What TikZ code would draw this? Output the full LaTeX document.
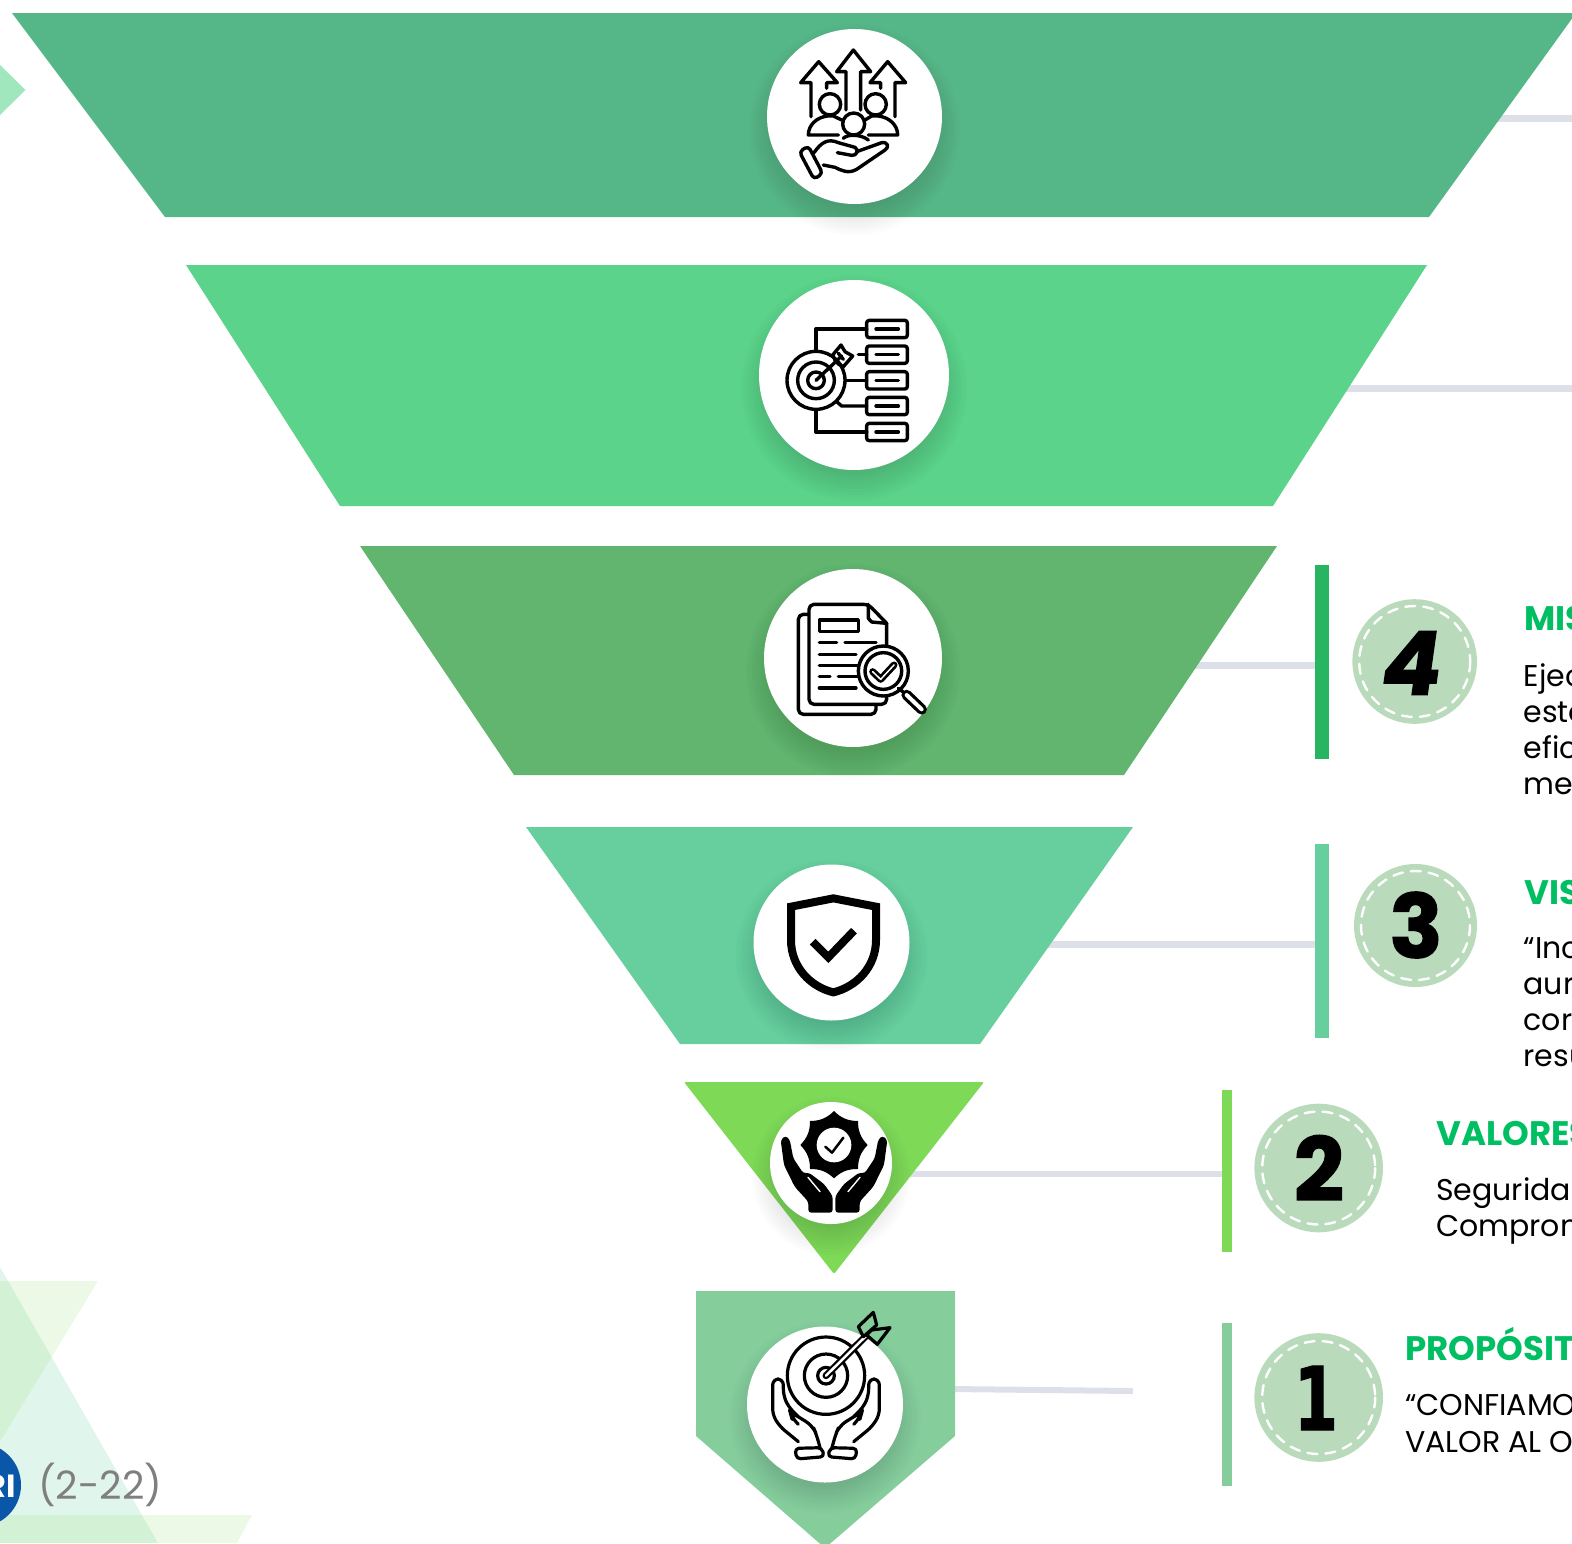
\documentclass[tikz,border=0pt]{standalone}
\usepackage{fontspec}
\setmainfont{Poppins}
\newfontfamily\numfont[BoldFeatures={FakeBold=1.6}]{Poppins}
\newfontfamily\slantfont[BoldFeatures={FakeBold=1.6,FakeSlant=0.14}]{Poppins}
\newfontfamily\onefont[BoldFeatures={FakeStretch=0.72,FakeBold=1}]{DejaVu Sans}
\usetikzlibrary{positioning,calc}

\definecolor{bandA}{HTML}{55B787}
\definecolor{bandB}{HTML}{5BD38A}
\definecolor{bandC}{HTML}{61B56F}
\definecolor{bandD}{HTML}{66CF9D}
\definecolor{bandE}{HTML}{7ED957}
\definecolor{bandF}{HTML}{85CE9C}
\definecolor{barfour}{HTML}{27B562}
\definecolor{linkgray}{HTML}{DDE0E8}
\definecolor{numgreen}{HTML}{BADBBB}
\definecolor{headgreen}{HTML}{00BF63}
\definecolor{logoblue}{HTML}{0A56A8}
\definecolor{diamondgreen}{HTML}{A0E7BE}
\definecolor{markgray}{HTML}{7F7F7F}

% soft shadow under a white circle
\newcommand{\circshadow}[3]{%
  \foreach \k in {0,...,9} {
    \fill[black,opacity=0.011] (#1,#2+13) circle ({#3+18-\k*3});
  }
}

\begin{document}
\begin{tikzpicture}[x=1pt,y=-1pt,
  iconcirc/.style={circle,fill=white,inner sep=0pt},
  numcirc/.style={circle,fill=numgreen,inner sep=0pt,minimum size=#1},
  stitch/.style={white,line width=2.4pt,dash pattern=on 10pt off 8pt,line cap=round},
  linkline/.style={linkgray,line width=7pt},
  sidebar/.style={rectangle,inner sep=0pt,minimum width=#1},
  icon/.style={black,line width=3.4pt,line cap=round,line join=round},
  head/.style={anchor=base west,inner sep=0pt,text=headgreen,font=\fontsize{34}{36}\selectfont\bfseries},
  body/.style={anchor=base west,inner sep=0pt,text=black,font=\fontsize{30}{36}\selectfont},
  digit/.style={inner sep=0pt,text=black,font=\fontsize{88}{88}\selectfont}]

\useasboundingbox (0,0) rectangle (1572,1543);
\clip (0,0) rectangle (1572,1543);

% Background triangles
\fill[bandD,opacity=0.2] (-20,1232) -- (158,1543) -- (-200,1543) -- cycle;
\fill[bandE,opacity=0.15] (-100,1281) -- (98,1281) -- (-60,1540) -- cycle;
\fill[bandE,opacity=0.15] (-200,1515) -- (252,1515) -- (237,1543) -- (-200,1543) -- cycle;
\fill[diamondgreen] (-5,60) -- (25.5,90) -- (-5,120) -- cycle;

% Page mark
\node[circle,fill=logoblue,inner sep=0pt,minimum size=84pt] (logo) at (-21,1485) {};
\node[anchor=base east,inner sep=0pt,text=white,font=\fontsize{32}{32}\selectfont\bfseries] (logotext) at (16,1497) {RI};
\node[anchor=base west,inner sep=0pt,text=markgray,font=\fontsize{39}{39}\selectfont] (pagemark) at (38,1499) {(2-22)};

% Side bars
\node[sidebar=14pt,minimum height=194pt,fill=barfour] (bar4) at (1322,662) {};
\node[sidebar=14pt,minimum height=194pt,fill=bandD] (bar3) at (1322,941) {};
\node[sidebar=10pt,minimum height=162pt,fill=bandE] (bar2) at (1227,1171) {};
\node[sidebar=10pt,minimum height=163pt,fill=bandF] (bar1) at (1227,1404.5) {};

% Connectors, their left ends sit under the bands
\coordinate (from6) at (1450,118);
\coordinate (to6) at (1580,118);
\coordinate (from5) at (1300,388);
\coordinate (to5) at (1580,388);
\coordinate (from4) at (1150,665.5);
\coordinate (from3) at (1000,944);
\coordinate (from2) at (880,1174);
\coordinate (from1) at (950,1389);
\coordinate (to1) at (1133,1391);
\draw[linkline] (from6) -- (to6);
\draw[linkline] (from5) -- (to5);
\draw[linkline] (from4) -- (from4 -| bar4.west);
\draw[linkline] (from3) -- (from3 -| bar3.west);
\draw[linkline,line width=6pt] (from2) -- (from2 -| bar2.west);
\draw[linkline,line width=6pt] (from1) -- (to1);

% Funnel bands
\fill[bandA] (12,13) -- (1576,13) -- (1429,217) -- (165,217) -- cycle;
\fill[bandB] (186,265) -- (1427,265) -- (1273,506) -- (340,506) -- cycle;
\fill[bandC] (360,546) -- (1277,546) -- (1124,775) -- (514,775) -- cycle;
\fill[bandD] (526,827) -- (1133,827) -- (980,1044) -- (680,1044) -- cycle;
\fill[bandE,rounded corners=2pt] (684,1082) -- (984,1082) -- (834,1274) -- cycle;
\fill[bandF] (696,1291) -- (955,1291) -- (955,1436) -- (825,1548) -- (696,1436) -- cycle;

% Icon circles
\circshadow{854.5}{116.5}{87.5}
\circshadow{854}{375}{95}
\circshadow{853}{658}{89}
\circshadow{831.5}{942.5}{78}
\circshadow{831}{1163}{61}
\circshadow{825}{1404.5}{78}
\node[iconcirc,minimum size=175pt] (circ6) at (854.5,116.5) {};
\node[iconcirc,minimum size=190pt] (circ5) at (854,375) {};
\node[iconcirc,minimum size=178pt] (circ4) at (853,658) {};
\node[iconcirc,minimum size=156pt] (circ3) at (831.5,942.5) {};
\node[iconcirc,minimum size=122pt] (circ2) at (831,1163) {};
\node[iconcirc,minimum size=156pt] (circ1) at (825,1404.5) {};

% Icon: people over a hand
\begin{scope}[shift={(740,10)},scale=1/3,icon]
  \draw (318,300) -- (318,185) -- (290,185) -- (340,120) -- (392,185) -- (362,185) -- (362,300);
  \draw (213,320) -- (213,218) -- (182,218) -- (236,155) -- (292,218) -- (260,218) -- (260,235);
  \draw (465,320) -- (465,218) -- (497,218) -- (443,155) -- (390,218) -- (422,218) -- (422,235);
  \draw (270,283) circle (32);
  \draw (407,283) circle (32);
  \draw (295,375) -- (205,375) .. controls (205,345) and (230,322) .. (262,318) -- (280,318) -- (305,330);
  \draw (385,375) -- (473,375) .. controls (473,345) and (448,322) .. (415,318) -- (395,318) -- (375,330);
  \draw (341,342) circle (33);
  \draw (310,385) .. controls (322,372) and (362,372) .. (385,390);
  \draw[rounded corners=4pt] (178,425) -- (205,408) -- (248,490) -- (222,508) -- cycle;
  \draw (222,428) .. controls (245,395) and (265,385) .. (295,398) -- (345,412) .. controls (358,420) and (350,438) .. (335,436) -- (292,428);
  \draw (350,425) -- (425,398) .. controls (445,395) and (448,412) .. (435,420) -- (350,478) .. controls (325,492) and (305,482) .. (285,472) -- (250,465);
\end{scope}

% Icon: target with boxes
\begin{scope}[shift={(740,270)},scale=1/3,icon]
  \foreach \y in {177,254,331,408,486} {
    \draw[rounded corners=2.5pt] (380,\y-26) rectangle (502,\y+26);
    \draw (408,\y) -- (475,\y);
  }
  \draw (380,177) -- (228,177) -- (228,240);
  \draw (228,420) -- (228,486) -- (380,486);
  \draw (355,254) -- (380,254);
  \draw (318,331) -- (380,331);
  \draw (290,395) -- (305,408) -- (380,408);
  \draw (228,331) circle (87);
  \draw (228,331) circle (55);
  \draw (228,331) circle (25);
  \draw (228,331) -- (305,258);
  \draw (285,270) -- (278,255) -- (303,225) -- (315,245) -- (338,258) -- (310,290) -- (295,282) -- cycle;
  \draw (295,250) -- (310,268);
\end{scope}

% Icon: pages under a magnifier
\begin{scope}[shift={(750,560)},scale=1/3,icon]
  \draw[rounded corners=5pt] (175,163) -- (145,163) -- (145,463) -- (378,463) -- (378,435);
  \draw[rounded corners=5pt] (410,190) -- (355,133) -- (177,133) -- (177,433) -- (410,433) -- (410,190);
  \draw (355,133) -- (355,175) -- (365,186) -- (410,190);
  \draw (208,180) rectangle (325,215);
  \draw (208,248) -- (260,248);
  \draw (285,248) -- (378,248);
  \draw (208,283) -- (318,283);
  \draw (208,316) -- (330,316);
  \draw (208,350) -- (240,350);
  \draw (265,350) -- (330,350);
  \draw (208,384) -- (318,384);
  \draw[fill=white] (400,333) circle (75);
  \draw (400,333) circle (55);
  \draw[line width=7pt] (368,335) -- (392,358) -- (432,315);
  \draw[white,line width=1.5pt] (368,335) -- (392,358) -- (432,315);
  \draw (445,385) -- (465,400);
  \draw[line width=10.5pt] (470,405) -- (515,448);
  \draw[white,line width=4pt] (470,405) -- (515,448);
\end{scope}

% Icon: shield
\begin{scope}[shift={(770,880)},scale=1/3,icon,line cap=butt,line join=miter,line width=8pt]
  \draw (63,80) -- (190,55) -- (318,80) -- (318,180) .. controls (318,260) and (260,320) .. (190,337) .. controls (120,320) and (63,260) .. (63,180) -- cycle;
  \draw (128,185) -- (175,232) -- (252,152);
\end{scope}

% Icon: badge over two hands
\begin{scope}[shift={(834,1090)},scale=1/3,icon]
  \fill (0,63) to[bend right=22] (72,93) to[bend right=22] (101,165) to[bend right=22] (72,237)
     to[bend right=22] (0,265) to[bend right=22] (-72,237) to[bend right=22] (-101,165)
     to[bend right=22] (-72,93) to[bend right=22] (0,63);
  \fill[white] (0,165) circle (52);
  \draw[line width=2.5pt] (-26,170) -- (-6,188) -- (28,143);
  \foreach \s in {1,-1} {
    \begin{scope}[xscale=\s]
      \fill[rounded corners=3pt] (-160,150) -- (-150,225) -- (-118,290) -- (-77,335) -- (-77,368) -- (-4,368) -- (-4,318) -- (-30,282) -- (-75,248) -- (-92,250) -- (-122,205) -- (-133,148) -- (-146,137) -- cycle;
      \draw[white,line width=1.4pt] (-78,262) -- (-42,305);
    \end{scope}
  }
\end{scope}

% Icon: target held by two hands
\begin{scope}[shift={(826,1295)},scale=1/3,icon,line width=3.2pt]
  \draw (0,242) circle (116);
  \draw (0,242) circle (65);
  \draw (0,242) circle (25);
  \draw[line width=7pt] (0,242) -- (125,118);
  \draw[white,line width=2.5pt] (0,242) -- (125,118);
  \fill[bandF,draw=black] (97,95) -- (142,52) -- (152,90) -- (112,125) -- cycle;
  \fill[bandF,draw=black] (137,105) -- (192,98) -- (154,148) -- (122,120) -- cycle;
  \foreach \s in {1,-1} {
    \begin{scope}[xscale=\s]
      \draw[rounded corners=6pt] (-83,440) -- (-138,395) -- (-160,360) -- (-160,252) -- (-128,252) -- (-128,300) -- (-113,335) -- (-83,365);
      \draw[rounded corners=8pt] (-83,388) -- (-103,368) -- (-108,350) -- (-40,392) -- (-28,420) -- (-18,458);
      \draw[rounded corners=4pt] (-93,460) -- (-13,458) -- (-5,485) -- (-88,492) -- cycle;
    \end{scope}
  }
\end{scope}

% Number discs
\node[numcirc=124.6pt] (num4) at (1414.7,661.5) {};
\node[numcirc=123pt] (num3) at (1415.5,925.5) {};
\node[numcirc=128.6pt] (num2) at (1318.7,1168) {};
\node[numcirc=128.6pt] (num1) at (1318.7,1397.5) {};
\draw[stitch] (num4) circle (55.5);
\draw[stitch] (num3) circle (54.5);
\draw[stitch] (num2) circle (56.5);
\draw[stitch] (num1) circle (56.5);
\node[digit] (digit4) at (1408,663) {\slantfont\bfseries 4};
\node[digit] (digit3) at (1416,925) {\numfont\bfseries 3};
\node[digit] (digit2) at (1319,1168) {\numfont\bfseries 2};
\node[digit] (digit1) at (1316,1398) {\onefont\bfseries 1};

% Texts, cut by the page edge
\node[head] (t4) at (1524,630) {MIS};
\node[body] (t4a) at (1523.5,686) {Ejec};
\node[body] (t4b) at (1523.5,722) {este};
\node[body] (t4c) at (1523.5,758) {efic};
\node[body] (t4d) at (1523.5,794) {me};
\node[head] (t3) at (1524,904) {VIS};
\node[body] (t3a) at (1523.5,958) {“Inc};
\node[body] (t3b) at (1523.5,994) {aur};
\node[body] (t3c) at (1523.5,1030) {cor};
\node[body] (t3d) at (1523.5,1066) {resu};
\node[head] (t2) at (1436,1145) {VALORES};
\node[body] (t2a) at (1436,1200) {Seguridad};
\node[body] (t2b) at (1436,1236) {Comprom};
\node[head] (t1) at (1405,1360) {PROPÓSITO};
\node[body] (t1a) at (1405,1415) {“CONFIAMOS};
\node[body] (t1b) at (1405,1452) {VALOR AL O};

\end{tikzpicture}
\end{document}
